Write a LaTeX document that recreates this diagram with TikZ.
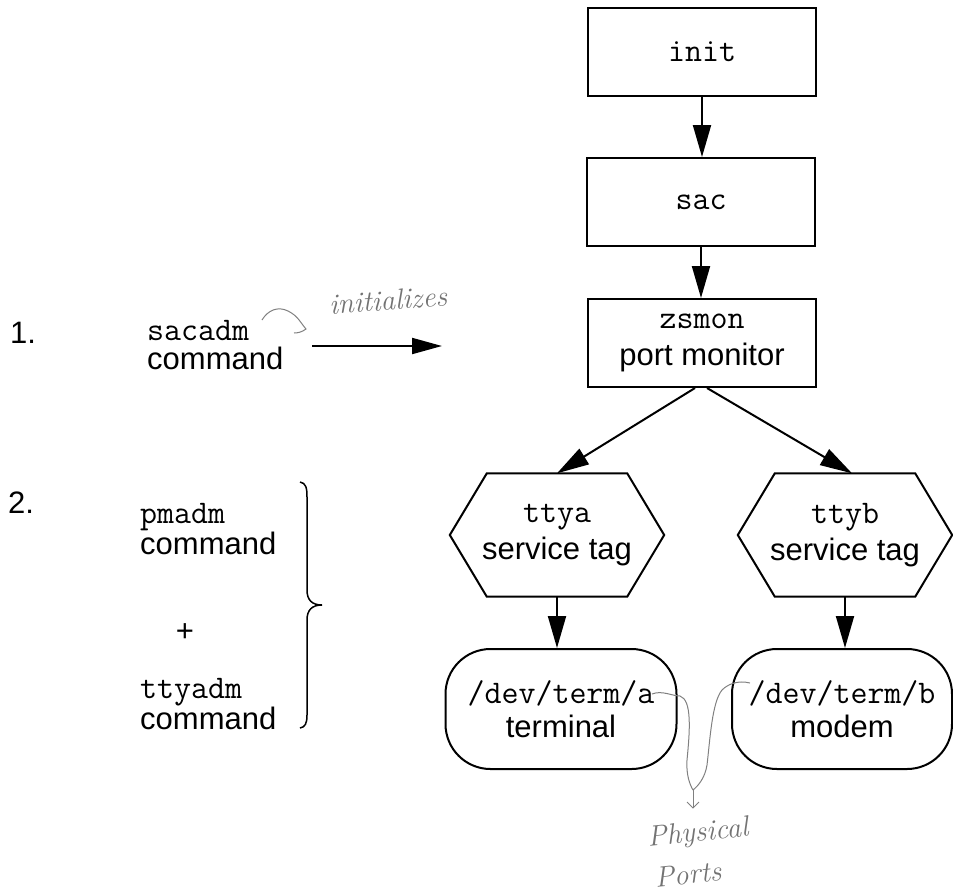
\documentclass[tikz,border=0pt]{standalone}
\usepackage{fontspec}
\setsansfont{Liberation Sans}
\usetikzlibrary{arrows.meta,calc}
\newcommand\mtx[1]{{\ttfamily\fontsize{33}{35}\selectfont #1}}
\newcommand\stx[1]{{\sffamily\fontsize{31}{37}\selectfont #1}}
\begin{document}
\begin{tikzpicture}[x=1pt,y=-1pt,
  arr/.style={line width=2pt,-{Triangle[length=32pt,width=18pt]}},
  procbox/.style={draw,line width=2pt,minimum width=228pt,minimum height=88pt,inner sep=0pt,align=center,font=\fontsize{31}{37}\selectfont},
  hexbox/.style={minimum width=214pt,minimum height=123pt,inner sep=0pt,align=center,font=\fontsize{31}{37}\selectfont},
  devbox/.style={draw,line width=2pt,rounded corners=45pt,minimum height=120pt,inner sep=0pt,align=center,font=\fontsize{31}{34}\selectfont},
  lbl/.style={anchor=west,inner sep=0pt,align=left,font=\fontsize{31}{29}\selectfont},
  hand/.style={draw=black!50,line width=1pt},
  handtext/.style={text=black!55,inner sep=0pt,font=\itshape\fontsize{29}{31}\selectfont}
]
\useasboundingbox (0,0) rectangle (953,895);

% process boxes
\node[procbox] (init) at (702,52) {\mtx{init}};
\node[procbox] (sac) at (701,202) {\mtx{sac}};
\node[procbox] (zsmon) at (702,343) {\mtx{zsmon}\\\stx{port monitor}};

% service tags (hexagons)
\node[hexbox] (ttya) at (557,535) {\mtx{ttya}\\\stx{service tag}};
\node[hexbox] (ttyb) at (845,535) {\mtx{ttyb}\\\stx{service tag}};
\foreach \n in {ttya,ttyb}{
  \draw[line width=2pt,line join=miter] (\n.west) -- ([xshift=37pt]\n.north west) -- ([xshift=-37pt]\n.north east)
    -- (\n.east) -- ([xshift=-37pt]\n.south east) -- ([xshift=37pt]\n.south west) -- cycle;
}

% devices
\node[devbox,minimum width=231pt] (terma) at (561,709) {\mtx{/dev/term/a}\\\stx{terminal}};
\node[devbox,minimum width=220pt] (termb) at (842,709) {\mtx{/dev/term/b}\\\stx{modem}};

% connectors
\draw[arr] (init.south) -- (init.south |- sac.north);
\draw[arr] (sac.south) -- (sac.south |- zsmon.north);
\draw[arr] ([xshift=-7pt]zsmon.south) -- (ttya.north);
\draw[arr] ([xshift=5pt]zsmon.south) -- ([xshift=7pt]ttyb.north);
\draw[arr] (ttya.south) -- (ttya.south |- terma.north);
\draw[arr] (ttyb.south) -- (ttyb.south |- termb.north);

% left column
\node[lbl] (one) at (10,333) {\stx{1.}};
\node[lbl] (two) at (8,503) {\stx{2.}};
\node[lbl] (sacadm) at (147,345) {\mtx{sacadm}\\\stx{command}};
\node[lbl] (pmadm) at (140,529) {\mtx{pmadm}\\\stx{command}};
\node[inner sep=0pt] (plus) at (185,633) {\stx{+}};
\node[lbl] (ttyadm) at (140,704) {\mtx{ttyadm}\\\stx{command}};

\coordinate (sacfrom) at (312,346);
\coordinate (sacto) at (442,346);
\draw[line width=2pt,-{Triangle[length=30pt,width=16pt]}] (sacfrom) -- (sacto);

% brace
\draw[line width=1.5pt] (300,482) .. controls (306,483) and (307,488) .. (307,497) -- (307,590)
  .. controls (307,600) and (312,605) .. (322,605) .. controls (312,605) and (307,610) .. (307,620)
  -- (307,715) .. controls (307,724) and (305,727) .. (300,728);

% handwritten annotations
\draw[hand] (262,320) .. controls (268,310) and (278,306) .. (288,311)
  .. controls (298,316) and (300,322) .. (306,329) .. controls (302,332) and (298,333) .. (294,333);
\node[handtext,rotate=4] (initz) at (388,300) {initializes};

\coordinate (pa) at (652,694);
\coordinate (pb) at (750,683);
\coordinate (pj) at (693,790);
\coordinate (pt) at (693,808);
\draw[hand] (pa) .. controls (662,690) and (672,696) .. (680,696)
  .. controls (692,700) and (690,730) .. (687,760) .. controls (686,775) and (690,785) .. (pj);
\draw[hand] (pb) .. controls (738,680) and (728,684) .. (722,690)
  .. controls (712,702) and (710,740) .. (707,765) .. controls (705,778) and (698,786) .. (pj);
\draw[hand] (pj) -- (pt);
\draw[hand] (687,802) -- (pt) -- (699,802);
\node[handtext,rotate=6] (phys) at (698,834) {Physical};
\node[handtext,rotate=6] (ports) at (688,874) {Ports};
\end{tikzpicture}
\end{document}
